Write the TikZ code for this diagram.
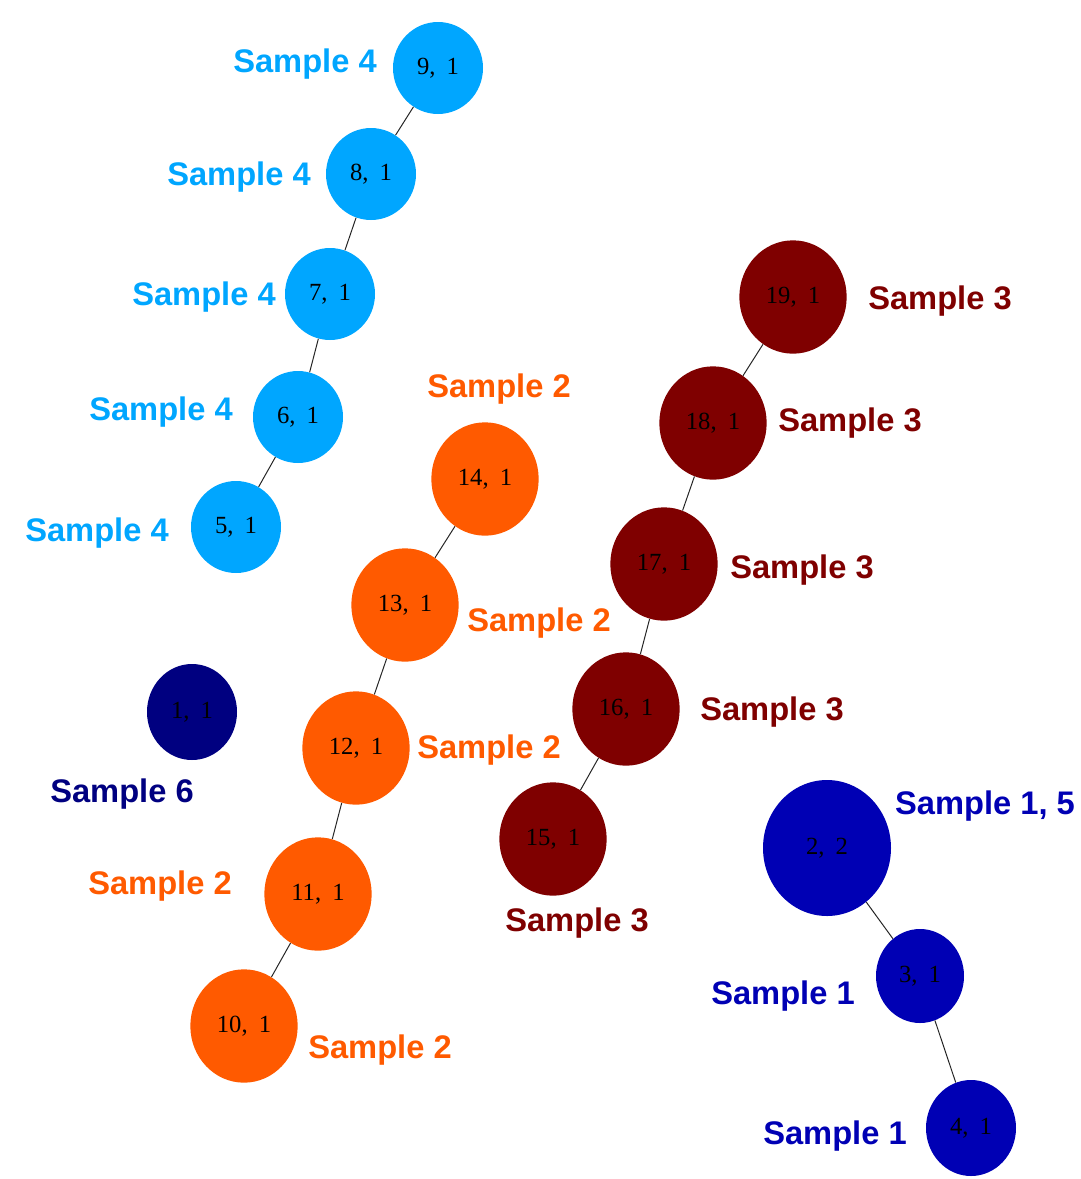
\documentclass[tikz,border=0pt]{standalone}
\usepackage{fontspec}
\setmainfont{Liberation Serif}
\newfontfamily\labfont{Liberation Sans}
\usetikzlibrary{shapes.geometric}
\definecolor{skyblue}{RGB}{0,166,255}
\definecolor{orangered}{RGB}{255,90,0}
\definecolor{maroon}{RGB}{127,0,0}
\definecolor{navy}{RGB}{0,0,128}
\definecolor{royal}{RGB}{0,0,180}
\newcommand{\pair}[2]{#1,\hspace{0.45em}#2}
\tikzset{
  vtx/.style={ellipse, inner sep=0pt, font=\fontsize{18.5}{18.5}\selectfont, text=black},
  smallv/.style={vtx, minimum width=67.5pt, minimum height=69pt},
  largev/.style={vtx, minimum width=80.5pt, minimum height=85pt},
  lab/.style={font=\labfont\bfseries\fontsize{24.5}{24.5}\selectfont, inner sep=0pt, yshift=-2.2pt},
  link/.style={draw=black!85, line width=0.75pt},
}
\begin{document}
\begin{tikzpicture}[x=0.75pt, y=-0.75pt]
\useasboundingbox (0,0) rectangle (1081,1179);

% Sample 4 chain
\node[smallv, fill=skyblue] (n9) at (438,68) {\pair{9}{1}};
\node[smallv, fill=skyblue] (n8) at (371,174) {\pair{8}{1}};
\node[smallv, fill=skyblue] (n7) at (330,294) {\pair{7}{1}};
\node[smallv, fill=skyblue] (n6) at (298,417) {\pair{6}{1}};
\node[smallv, fill=skyblue] (n5) at (236,527) {\pair{5}{1}};

% Sample 2 chain
\node[largev, fill=orangered] (n14) at (485,479) {\pair{14}{1}};
\node[largev, fill=orangered] (n13) at (405,605) {\pair{13}{1}};
\node[largev, fill=orangered] (n12) at (356,748) {\pair{12}{1}};
\node[largev, fill=orangered] (n11) at (318,894) {\pair{11}{1}};
\node[largev, fill=orangered] (n10) at (244,1026) {\pair{10}{1}};

% Sample 3 chain
\node[largev, fill=maroon] (n19) at (793,297) {\pair{19}{1}};
\node[largev, fill=maroon] (n18) at (713,423) {\pair{18}{1}};
\node[largev, fill=maroon] (n17) at (664,564) {\pair{17}{1}};
\node[largev, fill=maroon] (n16) at (626,709) {\pair{16}{1}};
\node[largev, fill=maroon] (n15) at (553,839) {\pair{15}{1}};

% Sample 6
\node[vtx, fill=navy, minimum width=67.5pt, minimum height=72pt] (n1) at (192,712) {\pair{1}{1}};

% Samples 1 and 5
\node[vtx, fill=royal, minimum width=96pt, minimum height=102pt] (n2) at (827,848) {\pair{2}{2}};
\node[vtx, fill=royal, minimum width=66pt, minimum height=70.5pt] (n3) at (920,976) {\pair{3}{1}};
\node[vtx, fill=royal, minimum width=67.5pt, minimum height=72pt] (n4) at (971,1128) {\pair{4}{1}};

% connectors
\draw[link] (n9) -- (n8);
\draw[link] (n8) -- (n7);
\draw[link] (n7) -- (n6);
\draw[link] (n6) -- (n5);
\draw[link] (n14) -- (n13);
\draw[link] (n13) -- (n12);
\draw[link] (n12) -- (n11);
\draw[link] (n11) -- (n10);
\draw[link] (n19) -- (n18);
\draw[link] (n18) -- (n17);
\draw[link] (n17) -- (n16);
\draw[link] (n16) -- (n15);
\draw[link] (n2) -- (n3);
\draw[link] (n3) -- (n4);

% labels
\node[lab, text=skyblue] (l9) at (305,61) {Sample 4};
\node[lab, text=skyblue] (l8) at (239,174) {Sample 4};
\node[lab, text=skyblue] (l7) at (204,294) {Sample 4};
\node[lab, text=skyblue] (l6) at (161,409) {Sample 4};
\node[lab, text=skyblue] (l5) at (97,530) {Sample 4};

\node[lab, text=orangered] (l14) at (499,386) {Sample 2};
\node[lab, text=orangered] (l13) at (539,620) {Sample 2};
\node[lab, text=orangered] (l12) at (489,747) {Sample 2};
\node[lab, text=orangered] (l11) at (160,883) {Sample 2};
\node[lab, text=orangered] (l10) at (380,1047) {Sample 2};

\node[lab, text=maroon] (l19) at (940,298) {Sample 3};
\node[lab, text=maroon] (l18) at (850,420) {Sample 3};
\node[lab, text=maroon] (l17) at (802,567) {Sample 3};
\node[lab, text=maroon] (l16) at (772,709) {Sample 3};
\node[lab, text=maroon] (l15) at (577,920) {Sample 3};

\node[lab, text=navy] (l1) at (122,791) {Sample 6};
\node[lab, text=royal] (l2) at (985,803) {Sample 1, 5};
\node[lab, text=royal] (l3) at (783,993) {Sample 1};
\node[lab, text=royal] (l4) at (835,1133) {Sample 1};
\end{tikzpicture}
\end{document}
